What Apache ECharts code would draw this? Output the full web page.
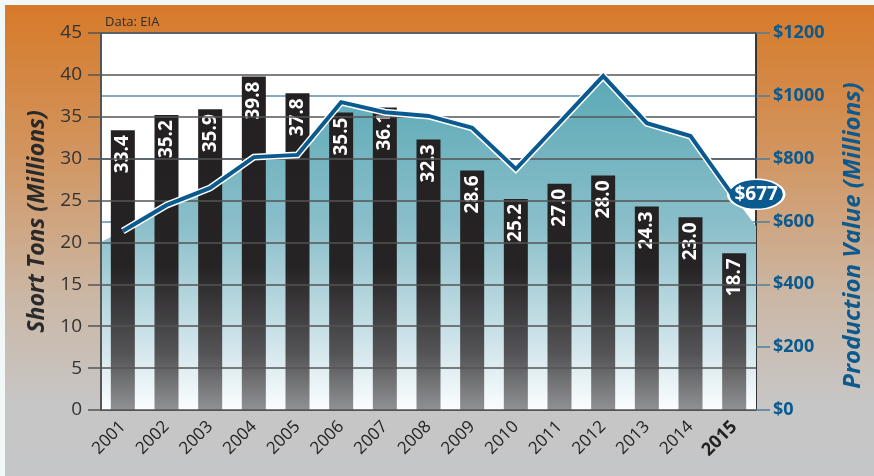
<!DOCTYPE html>
<html>
<head>
<meta charset="utf-8">
<script src="https://cdn.jsdelivr.net/npm/echarts@6/dist/echarts.min.js"></script>
<style>
  html, body { margin: 0; padding: 0; background: #f2f7f8; }
  #main { width: 874px; height: 476px; }
</style>
</head>
<body>
<div id="main"></div>
<script>
var years = ['2001', '2002', '2003', '2004', '2005', '2006', '2007', '2008',
             '2009', '2010', '2011', '2012', '2013', '2014', '2015'];
// short tons (millions)
var tons = [33.4, 35.2, 35.9, 39.8, 37.8, 35.5, 36.1, 32.3, 28.6, 25.2, 27.0, 28.0, 24.3, 23.0, 18.7];
// production value ($ millions)
var prodValue = [570, 652, 707, 805, 812, 980, 948, 936, 898, 767, 915, 1063, 913, 872, 677];
// where the shaded area meets the left / right edge of the plot
var areaLeftEdge = 535;
var areaRightEdge = 585;
var leftTicks = [0, 45, 5];
var rightTicks = [0, 1200, 200];

var blue = '#0b5a8f';
var font = 'Open Sans';

var chart = echarts.init(document.getElementById('main'));

// area data on a hidden value x axis so it can run out to the plot edges
var areaData = [[-0.5, areaLeftEdge]];
prodValue.forEach(function (v, i) { areaData.push([i, v]); });
areaData.push([years.length - 0.5, areaRightEdge]);

var option = {
    backgroundColor: '#f2f7f8',
    animation: false,
    textStyle: { fontFamily: font },
    graphic: [
        {
            type: 'rect', z: -10, silent: true,
            shape: { x: 5, y: 5, width: 869, height: 471 },
            style: {
                fill: new echarts.graphic.LinearGradient(0, 0, 0, 1, [
                    { offset: 0, color: '#d77a29' },
                    { offset: 0.3, color: '#d2935c' },
                    { offset: 0.62, color: '#cbb7a5' },
                    { offset: 0.85, color: '#c7c6c6' },
                    { offset: 1, color: '#c5c6c8' }
                ])
            }
        },
        {
            type: 'text', left: 105, top: 16, z: 10,
            style: { text: 'Data: EIA', fill: '#2e2e2e', font: '13px "Open Sans"' }
        }
    ],
    grid: {
        left: 101, right: 118, top: 33, bottom: 66,
        show: true, backgroundColor: '#ffffff', borderColor: '#555', borderWidth: 1.5
    },
    xAxis: [
        {
            type: 'category',
            data: years,
            axisLine: { lineStyle: { color: '#555', width: 2 } },
            axisTick: { length: 6, lineStyle: { color: '#333', width: 1.2 } },
            axisLabel: {
                rotate: 45, margin: 14, fontSize: 17, color: '#222',
                formatter: function (v) { return v === '2015' ? '{b|' + v + '}' : v; },
                rich: { b: { fontWeight: 'bold', fontSize: 18, color: '#222' } }
            }
        },
        {
            type: 'value', show: false, min: -0.5, max: years.length - 0.5
        }
    ],
    yAxis: [
        {
            type: 'value',
            min: leftTicks[0], max: leftTicks[1], interval: leftTicks[2],
            z: 3,
            name: 'Short Tons (Millions)',
            nameLocation: 'middle', nameRotate: 90, nameGap: 51,
            nameTextStyle: { fontSize: 23, fontWeight: 'bold', fontStyle: 'italic', color: '#2a2a2a' },
            axisLine: { show: true, onZero: false, lineStyle: { color: '#555', width: 2 } },
            axisTick: { show: true, length: 13, lineStyle: { color: '#555', width: 1.5 } },
            axisLabel: { fontSize: 19, color: '#333', margin: 19 },
            splitLine: { lineStyle: { color: '#555', width: 1.5 } }
        },
        {
            type: 'value',
            min: rightTicks[0], max: rightTicks[1], interval: rightTicks[2],
            position: 'right',
            z: 0,
            name: 'Production Value (Millions)',
            nameLocation: 'middle', nameRotate: 90, nameGap: 85,
            nameTextStyle: {
                fontSize: 24, fontWeight: 'bold', fontStyle: 'italic', color: blue,
                padding: [0, 28, 0, 0]
            },
            axisLine: { show: true, onZero: false, lineStyle: { color: '#222', width: 1.5 } },
            axisTick: { show: true, length: 14, lineStyle: { color: '#4d7d9c', width: 1.5 } },
            axisLabel: {
                fontSize: 18, fontWeight: 'bold', color: blue, margin: 17,
                formatter: function (v) { return '$' + v; }
            },
            splitLine: { show: true, lineStyle: { color: '#5b8fae', width: 1.5 } }
        }
    ],
    series: [
        {
            // shaded area behind the bars
            type: 'line',
            xAxisIndex: 1, yAxisIndex: 1,
            data: areaData,
            z: 1,
            symbol: 'none',
            lineStyle: { width: 0 },
            areaStyle: {
                opacity: 1,
                color: new echarts.graphic.LinearGradient(0, 0, 0, 1, [
                    { offset: 0, color: '#5aa9b6' },
                    { offset: 0.45, color: '#8bbfca' },
                    { offset: 0.8, color: '#cfe4ea' },
                    { offset: 1, color: '#fbfdfe' }
                ])
            },
            silent: true
        },
        {
            type: 'bar',
            data: tons,
            z: 2,
            barWidth: 24,
            itemStyle: {
                color: {
                    type: 'linear', x: 0, y: 33, x2: 0, y2: 410, global: true,
                    colorStops: [
                        { offset: 0, color: '#231f20' },
                        { offset: 0.62, color: '#262324' },
                        { offset: 0.85, color: '#545456' },
                        { offset: 1, color: '#909194' }
                    ]
                }
            },
            label: {
                show: true,
                position: 'insideTop',
                rotate: 90,
                align: 'right',
                verticalAlign: 'middle',
                distance: 5,
                color: '#ffffff',
                fontSize: 19,
                fontWeight: 'bold',
                formatter: function (p) { return p.value.toFixed(1); }
            }
        },
        {
            // white outline under the value line
            type: 'line',
            yAxisIndex: 1,
            data: prodValue,
            z: 4,
            symbol: 'none',
            lineStyle: { color: '#ffffff', width: 7, join: 'miter' },
            silent: true
        },
        {
            type: 'line',
            yAxisIndex: 1,
            data: prodValue,
            z: 5,
            symbol: 'none',
            lineStyle: { color: blue, width: 4, join: 'miter' },
            markPoint: {
                symbol: 'circle',
                symbolSize: [56, 30],
                symbolOffset: [22, -3],
                itemStyle: { color: blue, borderColor: '#ffffff', borderWidth: 2 },
                label: {
                    show: true, color: '#ffffff', fontSize: 19, fontWeight: 'bold',
                    formatter: function (p) { return '$' + p.value; }
                },
                data: [{ coord: [years.length - 1, prodValue[prodValue.length - 1]], value: prodValue[prodValue.length - 1] }]
            }
        }
    ]
};

chart.setOption(option);
</script>
</body>
</html>
